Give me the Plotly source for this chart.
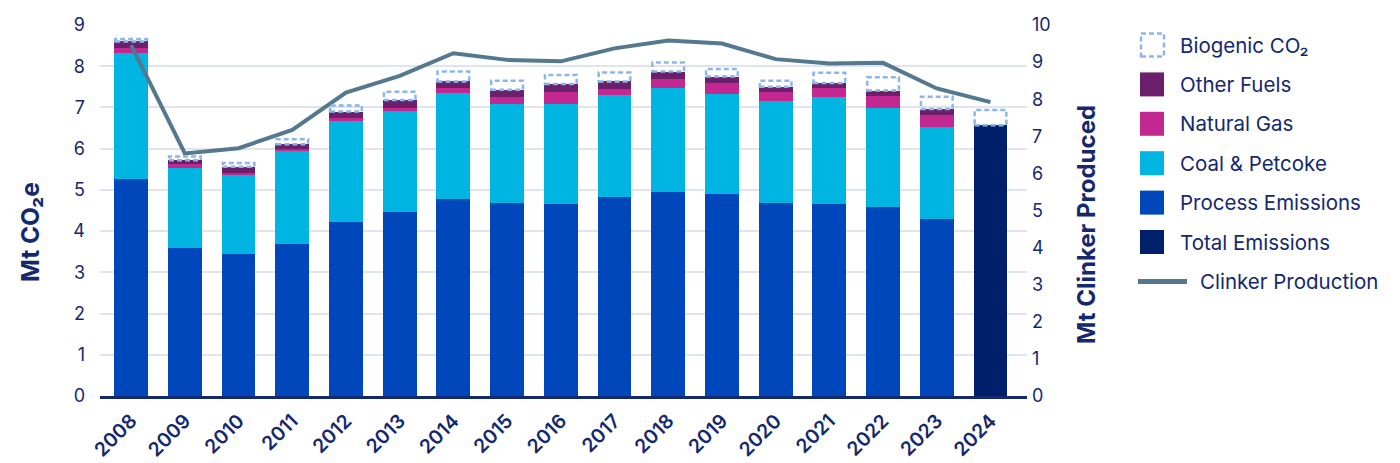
import plotly.graph_objects as go

# values (Mt CO2e, Mt clinker)
years = list(range(2008, 2025))

process = [5.26, 3.58, 3.44, 3.69, 4.23, 4.46, 4.77, 4.67, 4.66, 4.83, 4.94, 4.91, 4.69, 4.66, 4.58, 4.29, None]
coal = [3.07, 1.96, 1.92, 2.26, 2.43, 2.46, 2.59, 2.41, 2.43, 2.46, 2.52, 2.42, 2.47, 2.59, 2.40, 2.24, None]
gas = [0.11, 0.08, 0.06, 0.05, 0.09, 0.07, 0.10, 0.18, 0.29, 0.16, 0.23, 0.27, 0.21, 0.23, 0.30, 0.29, None]
other = [0.16, 0.10, 0.14, 0.11, 0.15, 0.19, 0.17, 0.17, 0.19, 0.18, 0.18, 0.15, 0.13, 0.11, 0.13, 0.14, None]
biogenic = [0.06, 0.09, 0.09, 0.12, 0.15, 0.20, 0.24, 0.22, 0.22, 0.22, 0.22, 0.18, 0.15, 0.25, 0.32, 0.30, 0.37]
total = [None] * 16 + [6.57]
clinker = [9.46, 6.54, 6.68, 7.17, 8.18, 8.63, 9.24, 9.06, 9.02, 9.37, 9.58, 9.50, 9.08, 8.96, 8.98, 8.29, 7.92]

TEXT = '#14286e'
C_PROCESS = '#0047bb'
C_COAL = '#00b5e2'
C_GAS = '#c2288f'
C_OTHER = '#6c1f6b'
C_TOTAL = '#00206b'
C_LINE = '#53788f'
C_BIO = '#8cb6ea'
FONT = 'Inter'
BAR_W = 0.63
DASH = '5px,3px'

fig = go.Figure()

for name, vals, col in [('Process Emissions', process, C_PROCESS),
                        ('Coal & Petcoke', coal, C_COAL),
                        ('Natural Gas', gas, C_GAS),
                        ('Other Fuels', other, C_OTHER),
                        ('Total Emissions', total, C_TOTAL)]:
    fig.add_trace(go.Bar(x=years, y=vals, name=name, marker_color=col,
                         marker_line_width=0, width=BAR_W, showlegend=False))

fig.add_trace(go.Scatter(x=years, y=clinker, name='Clinker Production', mode='lines',
                         line=dict(color=C_LINE, width=4), yaxis='y2', showlegend=False))

# biogenic CO2 drawn as dashed boxes sitting on top of each stack
shapes = []
for i, yr in enumerate(years):
    if total[i] is not None:
        base = total[i]
    else:
        base = process[i] + coal[i] + gas[i] + other[i]
    shapes.append(dict(type='rect', xref='x', yref='y',
                       x0=yr - BAR_W / 2 + 0.02, x1=yr + BAR_W / 2 - 0.02,
                       y0=base, y1=base + biogenic[i],
                       line=dict(color=C_BIO, width=2.5, dash=DASH),
                       fillcolor='rgba(0,0,0,0)', layer='above'))

# plot area in page pixels: x 100..1027, y 25..396
# (the page body has an 8px margin, so the figure itself is shifted by 8px)
L, R, T, B = 100, 1027, 25, 396
OFF = 8
W, H = 1400 - OFF, 463 - OFF


def px(x):
    return (x - L) / (R - L)


def py(y):
    return (B - y) / (B - T)


annotations = []
legend_items = [('Biogenic CO₂', C_BIO, 'bio'),
                ('Other Fuels', C_OTHER, 'box'),
                ('Natural Gas', C_GAS, 'box'),
                ('Coal & Petcoke', C_COAL, 'box'),
                ('Process Emissions', C_PROCESS, 'box'),
                ('Total Emissions', C_TOTAL, 'box'),
                ('Clinker Production', C_LINE, 'line')]
for k, (label, col, kind) in enumerate(legend_items):
    yc = 45 + k * 39.4
    if kind == 'line':
        shapes.append(dict(type='line', xref='paper', yref='paper',
                           x0=px(1138), x1=px(1187), y0=py(yc), y1=py(yc),
                           line=dict(color=col, width=5)))
        tx = 1198
    elif kind == 'bio':
        shapes.append(dict(type='rect', xref='paper', yref='paper',
                           x0=px(1141), x1=px(1164), y0=py(yc + 11.5), y1=py(yc - 11.5),
                           line=dict(color=col, width=2.5, dash=DASH),
                           fillcolor='rgba(0,0,0,0)'))
        tx = 1178
    else:
        shapes.append(dict(type='rect', xref='paper', yref='paper',
                           x0=px(1140), x1=px(1164), y0=py(yc + 12), y1=py(yc - 12),
                           line=dict(width=0), fillcolor=col))
        tx = 1178
    annotations.append(dict(x=px(tx), y=py(yc), xref='paper', yref='paper',
                            text=label, showarrow=False, xanchor='left', yanchor='middle',
                            font=dict(family=FONT, size=20.5, color=TEXT)))

annotations.append(dict(x=px(30), y=py(232), xref='paper', yref='paper',
                        text='Mt CO₂e', textangle=-90, showarrow=False,
                        xanchor='center', yanchor='middle',
                        font=dict(family=FONT, size=24.5, color=TEXT, weight='bold')))
annotations.append(dict(x=px(1086), y=py(225), xref='paper', yref='paper',
                        text='Mt Clinker Produced', textangle=-90, showarrow=False,
                        xanchor='center', yanchor='middle',
                        font=dict(family=FONT, size=24, color=TEXT, weight='bold')))

fig.update_layout(
    width=W, height=H,
    margin=dict(l=L - OFF, r=1400 - R, t=T - OFF, b=463 - B, autoexpand=False),
    paper_bgcolor='white', plot_bgcolor='white',
    barmode='stack',
    font=dict(family=FONT, color=TEXT),
    shapes=shapes,
    annotations=annotations,
    xaxis=dict(range=[2007.42, 2024.68], tickmode='array', tickvals=years,
               tickangle=-45, tickfont=dict(size=19.5, color=TEXT, weight=600),
               showgrid=False, showline=True, linecolor=TEXT, linewidth=2.5,
               ticks='', ticklabelstandoff=3, automargin=False, fixedrange=True),
    yaxis=dict(range=[0, 9], dtick=1, showgrid=True, gridcolor='#dfe4ee', gridwidth=1.5,
               zeroline=False, tickfont=dict(size=18, color=TEXT),
               ticklabelstandoff=14, automargin=False),
    yaxis2=dict(range=[0, 10], dtick=1, overlaying='y', side='right', showgrid=False,
                zeroline=False, tickfont=dict(size=18, color=TEXT),
                ticklabelstandoff=4, automargin=False),
)

fig.write_html('out.html')
